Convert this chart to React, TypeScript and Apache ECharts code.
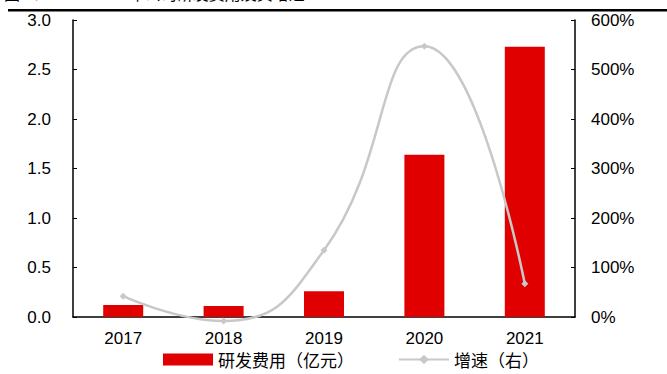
import React, { useEffect, useRef } from "react";
import * as echarts from "echarts";

const years = ["2017", "2018", "2019", "2020", "2021"];
const rdExpense = [0.12, 0.11, 0.26, 1.64, 2.73]; // 亿元
const growthPct = [42, -8, 135, 547, 67]; // %
const leftTicks = { min: 0, max: 3, interval: 0.5 };
const rightTicks = { min: 0, max: 600, interval: 100 };

const FONT = '"Liberation Sans", Arial, "Noto Sans CJK SC", sans-serif';
const CJK = '"Noto Sans CJK SC", sans-serif';

export default function App() {
  const ref = useRef<HTMLDivElement>(null);

  useEffect(() => {
    if (!ref.current) return;
    const chart = echarts.init(ref.current, null, { renderer: "svg" });
    chart.setOption({
      animation: false,
      backgroundColor: "#ffffff",
      textStyle: { fontFamily: FONT },
      graphic: [
        {
          type: "text",
          left: 4,
          top: -15,
          style: {
            text: "图 3：2017-2021 年公司研发费用及其增速",
            font: `16px ${CJK}`,
            fill: "#000",
          },
        },
        {
          type: "rect",
          shape: { x: 8, y: 9, width: 659, height: 2.5 },
          style: { fill: "#000" },
        },
      ],
      grid: { left: 73, right: 92, top: 20, bottom: 57 },
      legend: {
        top: 346,
        left: 158,
        itemGap: 44,
        itemWidth: 50,
        itemHeight: 12,
        textStyle: { fontSize: 17, color: "#000", fontFamily: CJK },
        data: [
          { name: "研发费用（亿元）", icon: "rect" },
          { name: "增速（右）" },
        ],
      },
      xAxis: {
        type: "category",
        data: years,
        boundaryGap: true,
        axisLine: { lineStyle: { color: "#000", width: 1.5 } },
        axisTick: { inside: true, length: 4, lineStyle: { color: "#000" } },
        axisLabel: { color: "#000", fontSize: 17, margin: 13 },
      },
      yAxis: [
        {
          type: "value",
          ...leftTicks,
          splitLine: { show: false },
          axisLine: { show: true, lineStyle: { color: "#000", width: 1.5 } },
          axisTick: { show: true, inside: true, length: 4, lineStyle: { color: "#000" } },
          axisLabel: {
            color: "#000",
            fontSize: 17,
            margin: 22,
            formatter: (v: number) => v.toFixed(1),
          },
        },
        {
          type: "value",
          ...rightTicks,
          splitLine: { show: false },
          axisLine: { show: true, lineStyle: { color: "#000", width: 1.5 } },
          axisTick: { show: true, inside: true, length: 4, lineStyle: { color: "#000" } },
          axisLabel: {
            color: "#000",
            fontSize: 17,
            margin: 16,
            formatter: (v: number) => `${v}%`,
          },
        },
      ],
      series: [
        {
          name: "研发费用（亿元）",
          type: "bar",
          data: rdExpense,
          barWidth: 40,
          itemStyle: { color: "#e00000" },
        },
        {
          name: "增速（右）",
          type: "line",
          yAxisIndex: 1,
          data: growthPct,
          smooth: 0.5,
          clip: false,
          symbol: "diamond",
          symbolSize: 7,
          lineStyle: { color: "#c8c8c8", width: 2.5 },
          itemStyle: { color: "#c8c8c8" },
        },
      ],
    });
    return () => chart.dispose();
  }, []);

  return (
    <div
      ref={ref}
      style={{ position: "fixed", left: 0, top: 0, width: 667, height: 374 }}
    />
  );
}
